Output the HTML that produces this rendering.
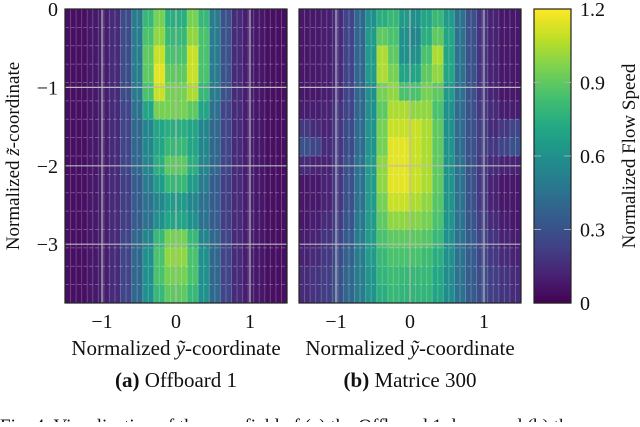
<!DOCTYPE html>
<html><head><meta charset="utf-8"><style>
body{margin:0;background:#fff;}
svg text{font-family:"Liberation Serif",serif;fill:#111;}
</style></head><body>
<svg width="640" height="422" viewBox="0 0 640 422" xmlns="http://www.w3.org/2000/svg">
<g id="plots"></g>
<text x="19" y="156" font-size="19" text-anchor="middle" transform="rotate(-90 19 156)">Normalized <tspan font-style="italic">z̃</tspan>-coordinate</text>
<text x="176" y="355" font-size="21" text-anchor="middle">Normalized <tspan font-style="italic">ỹ</tspan>-coordinate</text>
<text x="410" y="355" font-size="21" text-anchor="middle">Normalized <tspan font-style="italic">ỹ</tspan>-coordinate</text>
<text x="176" y="387" font-size="21" text-anchor="middle"><tspan font-weight="bold">(a)</tspan> Offboard 1</text>
<text x="410" y="387" font-size="21" text-anchor="middle"><tspan font-weight="bold">(b)</tspan> Matrice 300</text>
<text x="0" y="432" font-size="19">Fig. 4.   Visualization of the near field of (a) the Offboard 1 drone and (b) the</text>
<text x="635" y="156" font-size="19" text-anchor="middle" transform="rotate(-90 635 156)">Normalized Flow Speed</text>
</svg>
<script>
const yTicks=[0,-1,-2,-3];
const xTicks=[-1,0,1];
const xTickLabels=["−1","0","1"];
const yTickLabels=["0","−1","−2","−3"];
const cbTicks=[0,0.3,0.6,0.9,1.2];
const cbTickLabels=["0","0.3","0.6","0.9","1.2"];
const offboardValues=[
[0.05,0.05,0.08,0.1,0.15,0.28,0.5,0.8,0.95,0.75,0.75,0.95,0.8,0.5,0.3,0.15,0.1,0.08,0.05,0.05],
[0.05,0.05,0.08,0.1,0.15,0.28,0.5,0.85,1.0,0.8,0.8,1.0,0.85,0.5,0.3,0.15,0.1,0.08,0.05,0.05],
[0.05,0.05,0.08,0.1,0.15,0.28,0.5,0.9,1.1,0.85,0.85,1.1,0.85,0.5,0.3,0.15,0.1,0.08,0.05,0.05],
[0.05,0.05,0.08,0.1,0.15,0.28,0.5,0.9,1.15,0.9,0.9,1.1,0.85,0.5,0.3,0.15,0.1,0.08,0.05,0.05],
[0.05,0.05,0.08,0.1,0.15,0.28,0.5,0.85,1.1,0.95,0.95,1.05,0.8,0.5,0.3,0.15,0.1,0.08,0.05,0.05],
[0.05,0.05,0.08,0.1,0.15,0.25,0.45,0.7,0.95,0.95,0.95,0.9,0.7,0.45,0.25,0.15,0.1,0.08,0.05,0.05],
[0.05,0.05,0.08,0.1,0.15,0.25,0.4,0.55,0.7,0.75,0.75,0.7,0.55,0.4,0.25,0.15,0.1,0.08,0.05,0.05],
[0.05,0.05,0.08,0.1,0.15,0.25,0.4,0.55,0.7,0.8,0.8,0.7,0.55,0.4,0.25,0.15,0.1,0.08,0.05,0.05],
[0.05,0.05,0.08,0.1,0.15,0.25,0.4,0.55,0.75,0.9,0.9,0.75,0.55,0.4,0.25,0.15,0.1,0.08,0.05,0.05],
[0.05,0.05,0.08,0.1,0.15,0.22,0.35,0.5,0.65,0.8,0.8,0.65,0.5,0.35,0.22,0.15,0.1,0.08,0.05,0.05],
[0.05,0.05,0.08,0.1,0.15,0.22,0.35,0.45,0.55,0.65,0.65,0.55,0.45,0.35,0.22,0.15,0.1,0.08,0.05,0.05],
[0.05,0.05,0.08,0.1,0.15,0.22,0.35,0.45,0.6,0.7,0.7,0.6,0.45,0.35,0.22,0.15,0.1,0.08,0.05,0.05],
[0.05,0.05,0.08,0.1,0.15,0.25,0.4,0.55,0.8,0.95,0.95,0.8,0.55,0.4,0.25,0.15,0.1,0.08,0.05,0.05],
[0.05,0.05,0.08,0.1,0.15,0.25,0.4,0.6,0.85,1.0,1.0,0.85,0.6,0.4,0.25,0.15,0.1,0.08,0.05,0.05],
[0.05,0.05,0.08,0.1,0.15,0.25,0.4,0.6,0.85,0.95,0.95,0.85,0.6,0.4,0.25,0.15,0.1,0.08,0.05,0.05],
[0.05,0.05,0.08,0.1,0.15,0.25,0.4,0.6,0.8,0.9,0.9,0.8,0.6,0.4,0.25,0.15,0.1,0.08,0.05,0.05]
];
const matriceValues=[
[0.08,0.08,0.1,0.15,0.25,0.4,0.6,0.75,0.8,0.65,0.6,0.7,0.8,0.65,0.45,0.3,0.18,0.12,0.08,0.08],
[0.08,0.08,0.1,0.15,0.25,0.4,0.65,0.9,0.85,0.6,0.55,0.75,0.9,0.7,0.45,0.3,0.18,0.12,0.08,0.08],
[0.08,0.08,0.1,0.15,0.25,0.4,0.65,1.05,0.9,0.6,0.6,0.85,1.05,0.7,0.45,0.3,0.18,0.12,0.08,0.08],
[0.08,0.08,0.1,0.15,0.25,0.4,0.65,1.05,0.95,0.7,0.7,0.9,1.0,0.7,0.45,0.3,0.18,0.12,0.08,0.08],
[0.08,0.08,0.1,0.15,0.25,0.4,0.6,0.95,1.0,0.85,0.85,0.95,0.9,0.65,0.45,0.3,0.18,0.12,0.08,0.08],
[0.1,0.1,0.12,0.18,0.25,0.4,0.6,0.9,1.05,1.05,1.0,1.0,0.85,0.6,0.42,0.3,0.2,0.15,0.1,0.1],
[0.2,0.15,0.12,0.2,0.28,0.42,0.62,0.95,1.1,1.1,1.1,1.05,0.9,0.6,0.42,0.3,0.22,0.15,0.2,0.25],
[0.3,0.25,0.15,0.2,0.28,0.42,0.62,0.95,1.15,1.15,1.1,1.05,0.9,0.62,0.42,0.3,0.22,0.2,0.25,0.3],
[0.15,0.12,0.12,0.2,0.3,0.45,0.65,1.0,1.15,1.15,1.1,1.05,0.9,0.62,0.45,0.3,0.2,0.15,0.12,0.12],
[0.08,0.08,0.12,0.2,0.3,0.45,0.65,1.0,1.15,1.15,1.1,1.05,0.9,0.62,0.45,0.3,0.2,0.12,0.08,0.08],
[0.08,0.08,0.12,0.2,0.3,0.45,0.65,0.95,1.1,1.1,1.05,1.0,0.88,0.62,0.45,0.3,0.2,0.12,0.08,0.08],
[0.08,0.1,0.15,0.22,0.32,0.48,0.65,0.9,1.0,1.0,0.98,0.95,0.85,0.62,0.45,0.32,0.22,0.15,0.1,0.08],
[0.1,0.12,0.18,0.25,0.35,0.5,0.65,0.85,0.9,0.9,0.9,0.88,0.8,0.6,0.45,0.35,0.25,0.18,0.12,0.1],
[0.12,0.15,0.2,0.28,0.38,0.5,0.65,0.8,0.85,0.85,0.85,0.82,0.75,0.6,0.45,0.35,0.25,0.2,0.15,0.12],
[0.15,0.18,0.22,0.3,0.4,0.5,0.62,0.78,0.82,0.8,0.8,0.8,0.72,0.58,0.45,0.35,0.28,0.22,0.18,0.15],
[0.15,0.18,0.22,0.3,0.4,0.5,0.62,0.75,0.8,0.78,0.78,0.78,0.7,0.58,0.45,0.35,0.28,0.22,0.18,0.15]
];
const NS="http://www.w3.org/2000/svg";
const vir=[[68,1,84],[72,35,116],[64,67,135],[52,94,141],[41,120,142],[32,144,140],[34,168,132],[68,191,112],[122,209,81],[189,223,38],[253,231,37]];
function viridis(v){let t=Math.max(0,Math.min(1,v/1.2))*(vir.length-1);let i=Math.min(vir.length-2,Math.floor(t)),f=t-i;const c=vir[i].map((a,k)=>Math.round(a+(vir[i+1][k]-a)*f));return `rgb(${c[0]},${c[1]},${c[2]})`;}
const plotsG=document.getElementById('plots');
function mk(tag,attrs,parent){const e=document.createElementNS(NS,tag);for(const k in attrs)e.setAttribute(k,attrs[k]);(parent||plotsG).appendChild(e);return e;}
const plotTop=9,plotBot=303;
const yScale=v=>plotTop+(0-v)/3.75*(plotBot-plotTop);
function drawPlot(x0,x1,vals,showY,name){
  const xScale=v=>x0+(v+1.5)/3*(x1-x0);
  const grp=mk('g',{});
  
  
  const rows=vals.length,cols=vals[0].length;
  const dx=3/cols,dy=3.75/rows;
  vals.forEach((row,r)=>row.forEach((v,c)=>{
    const xa=xScale(-1.5+c*dx),xb=xScale(-1.5+(c+1)*dx),ya=yScale(-r*dy),yb=yScale(-(r+1)*dy);
    const e=mk('rect',{x:xa,y:ya,width:xb-xa+0.5,height:yb-ya+0.5,fill:viridis(v)},grp);
    
    
  }));
  for(let c=0;c<=cols*2;c++){const xx=xScale(-1.5+c*dx/2);mk('line',{x1:xx,x2:xx,y1:plotTop,y2:plotBot,stroke:'#fff','stroke-opacity':0.22,'stroke-width':1},grp);}
  for(let r=1;r<rows;r++){const yy=yScale(-r*dy);mk('line',{x1:x0,x2:x1,y1:yy,y2:yy,stroke:'#fff','stroke-opacity':0.35,'stroke-dasharray':'4 2','stroke-width':0.8},grp);}
  xTicks.forEach((t,i)=>{const xx=xScale(t);const e=mk('line',{x1:xx,x2:xx,y1:plotTop,y2:plotBot,stroke:'#bbb','stroke-width':1.2},grp);
    const tx=mk('text',{x:xx,y:328,'font-size':20,'text-anchor':'middle'},grp);tx.textContent=xTickLabels[i];});
  yTicks.forEach((t,i)=>{const yy=yScale(t);if(t!==0){const e=mk('line',{x1:x0,x2:x1,y1:yy,y2:yy,stroke:'#bbb','stroke-width':1.2},grp);}
    if(showY){const tx=mk('text',{x:58,y:yy+7,'font-size':20,'text-anchor':'end'},grp);tx.textContent=yTickLabels[i];}});
  mk('rect',{x:x0,y:plotTop,width:x1-x0,height:plotBot-plotTop,fill:'none',stroke:'#222','stroke-width':1.2},grp);
}
drawPlot(65,287,offboardValues,true,'heatmap-offboard');
drawPlot(299,521,matriceValues,false,'heatmap-matrice');
const cb=mk('g',{});


const cbY=v=>plotBot-(v/1.2)*(plotBot-plotTop);
for(let i=0;i<120;i++){const v=i*0.01;mk('rect',{x:534,y:cbY(v+0.01),width:37,height:(plotBot-plotTop)/120+0.6,fill:viridis(v+0.005)},cb);}
mk('rect',{x:534,y:plotTop,width:37,height:plotBot-plotTop,fill:'none',stroke:'#222','stroke-width':1.2},cb);
cbTicks.forEach((t,i)=>{const yy=cbY(t);if(t>0&&t<1.2){mk('line',{x1:534,x2:541,y1:yy,y2:yy,stroke:'#aaa'},cb);mk('line',{x1:564,x2:571,y1:yy,y2:yy,stroke:'#aaa'},cb);}
  const tx=mk('text',{x:580,y:yy+7,'font-size':20},cb);tx.textContent=cbTickLabels[i];});
</script>
</body></html>
